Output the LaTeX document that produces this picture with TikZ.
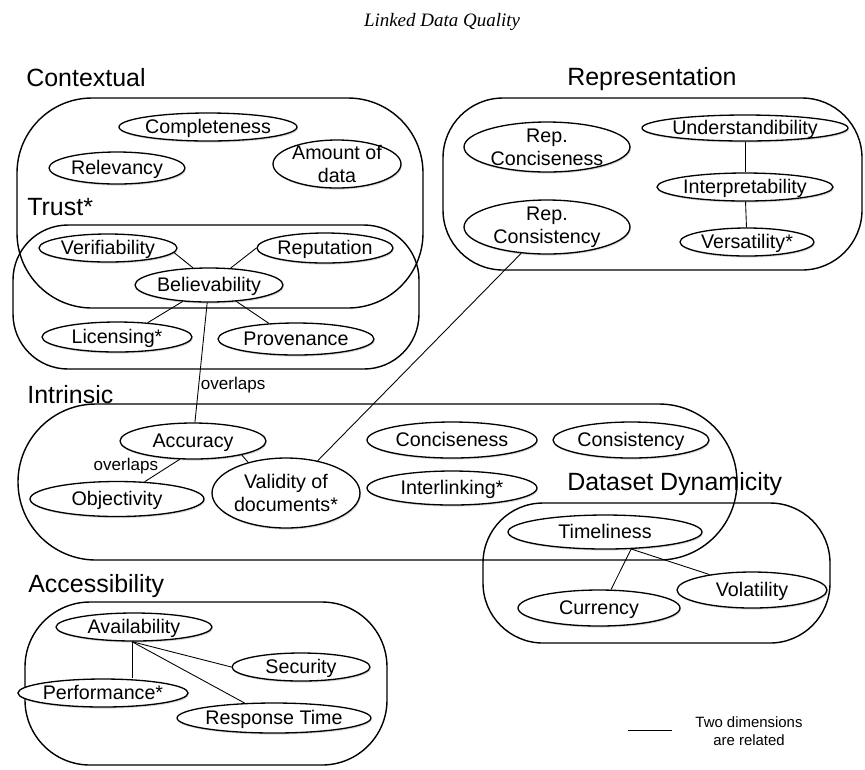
\documentclass[tikz,border=0pt]{standalone}
\usepackage{fontspec}
\setmainfont{Liberation Sans}
\newfontfamily\titlefont{Liberation Serif}
\usetikzlibrary{shapes.geometric,shadows}

\begin{document}
\begin{tikzpicture}[x=0.02cm, y=-0.02cm,
  dimbase/.style={ellipse, draw, fill=white, line width=0.75pt, inner sep=0pt, font=\fontsize{11.2}{13}\selectfont, drop shadow={shadow xshift=0.5pt, shadow yshift=-0.9pt, opacity=0.3}},
  dim/.style={dimbase, text height=0.8em, text depth=0.08em},
  dimtwo/.style={dimbase, align=center, inner ysep=-2pt},
  group/.style={draw, line width=0.8pt, rounded corners=#1},
  grouplabel/.style={anchor=base west, inner sep=0pt, font=\fontsize{14.2}{16}\selectfont},
  rel/.style={line width=0.5pt},
  olap/.style={font=\fontsize{9.7}{11}\selectfont, inner sep=1pt}]
\useasboundingbox (0,0) rectangle (865,769);
\node[font=\titlefont\itshape\fontsize{10.8}{12}\selectfont] (title) at (442,22) {Linked Data Quality};
\draw[group=1.5cm] (17,98) rectangle (423,308);
\draw[group=1.1cm] (13,225) rectangle (419,369);
\draw[group=1.2cm] (443,98) rectangle (862,270);
\draw[group=1.56cm] (18,404) rectangle (737,560);
\draw[group=1.2cm] (483,503) rectangle (830,643);
\draw[group=1.3cm] (25,602) rectangle (387,765);
\node[grouplabel] (contextual) at (26,86) {Contextual};
\node[grouplabel] (trust) at (27,215) {Trust*};
\node[grouplabel] (representation) at (567,85) {Representation};
\node[grouplabel] (intrinsic) at (27,403) {Intrinsic};
\node[grouplabel] (dynamicity) at (567,490) {Dataset Dynamicity};
\node[grouplabel] (accessibility) at (28,592) {Accessibility};
\node[dim, minimum width=3.56cm, minimum height=0.56cm] (completeness) at (208,127) {Completeness};
\node[dim, minimum width=2.72cm, minimum height=0.64cm] (relevancy) at (117,168) {Relevancy};
\node[dimtwo, minimum width=2.56cm, minimum height=0.96cm] (amount) at (337,164) {Amount of\\data};
\node[dim, minimum width=2.76cm, minimum height=0.56cm] (verifiability) at (108,248) {Verifiability};
\node[dim, minimum width=2.72cm, minimum height=0.6cm] (reputation) at (325,248) {Reputation};
\node[dim, minimum width=2.96cm, minimum height=0.68cm] (believability) at (209,285) {Believability};
\node[dim, minimum width=3.0cm, minimum height=0.6cm] (licensing) at (117,337) {Licensing*};
\node[dim, minimum width=3.12cm, minimum height=0.64cm] (provenance) at (296,339) {Provenance};
\node[dimtwo, minimum width=3.32cm, minimum height=1.0cm] (repconciseness) at (547,147) {Rep.\\Conciseness};
\node[dimtwo, minimum width=3.32cm, minimum height=1.08cm] (repconsistency) at (547,227) {Rep.\\Consistency};
\node[dim, minimum width=4.12cm, minimum height=0.52cm] (understandibility) at (745,128) {Understandibility};
\node[dim, minimum width=3.52cm, minimum height=0.56cm] (interpretability) at (745,187) {Interpretability};
\node[dim, minimum width=2.68cm, minimum height=0.56cm] (versatility) at (747,242) {Versatility*};
\node[dim, minimum width=2.92cm, minimum height=0.72cm] (accuracy) at (193,441) {Accuracy};
\node[dim, minimum width=3.48cm, minimum height=0.7cm] (objectivity) at (117,499) {Objectivity};
\node[dimtwo, minimum width=2.96cm, minimum height=1.4cm] (validity) at (286,493) {Validity of\\documents*};
\node[dim, minimum width=3.4cm, minimum height=0.72cm] (conciseness) at (452,440) {Conciseness};
\node[dim, minimum width=3.4cm, minimum height=0.68cm] (interlinking) at (452,488) {Interlinking*};
\node[dim, minimum width=3.12cm, minimum height=0.72cm] (consistency) at (631,440) {Consistency};
\node[dim, minimum width=3.88cm, minimum height=0.68cm] (timeliness) at (605,532) {Timeliness};
\node[dim, minimum width=3.0cm, minimum height=0.72cm] (volatility) at (752,590) {Volatility};
\node[dim, minimum width=3.24cm, minimum height=0.72cm] (currency) at (599,608) {Currency};
\node[dim, minimum width=3.12cm, minimum height=0.56cm] (availability) at (134,627) {Availability};
\node[dim, minimum width=2.76cm, minimum height=0.56cm] (security) at (301,667) {Security};
\node[dim, minimum width=2.6cm, minimum height=0.56cm] (performance) at (103,693) {Performance*};
\node[dim, minimum width=3.76cm, minimum height=0.6cm] (responsetime) at (274,718) {Response Time};
\draw[rel] (verifiability.-4) -- (believability.133);
\draw[rel] (reputation.west) -- (believability.38);
\draw[rel] (licensing.25) -- (believability.212);
\draw[rel] (provenance.150) -- (believability.-31);
\draw[rel] (believability) -- node[olap, pos=0.69, anchor=west] {overlaps} (accuracy);
\draw[rel] (accuracy.-126) -- node[olap, pos=0.3, anchor=east, xshift=-5pt] {overlaps} (objectivity.32);
\draw[rel] (accuracy.-16) -- (validity.141);
\draw[rel] (repconsistency) -- (validity);
\draw[rel] (understandibility) -- (interpretability);
\draw[rel] (interpretability) -- (versatility);
\draw[rel] (timeliness.-33) -- (currency.57);
\draw[rel] (timeliness.-33) -- (volatility.160);
\draw[rel] (availability.-98) -- (availability.-98 |- performance.north);
\draw[rel] (availability.-98) -- (security.west);
\draw[rel] (availability.-98) -- (responsetime.153);
\coordinate (legA) at (628,730);
\coordinate (legB) at (672,730);
\draw[rel] (legA) -- (legB);
\node[align=center, font=\fontsize{8.5}{10.2}\selectfont] (legend) at (749,731) {Two dimensions\\are related};
\end{tikzpicture}
\end{document}
